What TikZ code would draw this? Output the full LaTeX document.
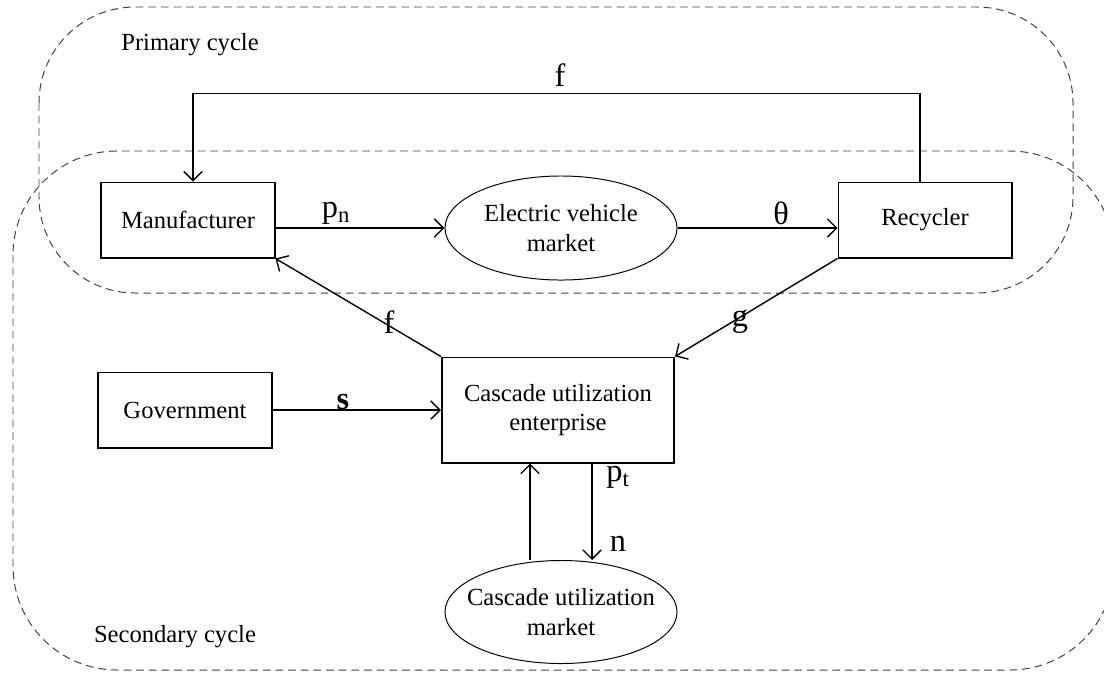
\documentclass[tikz,border=0pt]{standalone}
\usepackage{fontspec}
\setmainfont{Liberation Serif}
\usetikzlibrary{arrows.meta}
\usetikzlibrary{shapes.geometric}

\begin{document}
\begin{tikzpicture}[x=0.025cm,y=-0.025cm,
  every node/.style={font=\fontsize{17.5}{21}\selectfont},
  box/.style={draw,line width=1.4pt,minimum width=4.325cm,minimum height=1.875cm,inner sep=0pt,align=center},
  mkt/.style={draw,ellipse,line width=0.7pt,minimum width=5.8cm,minimum height=2.6cm,inner xsep=-14pt,align=center},
  lab/.style={font=\fontsize{23}{27}\selectfont,inner sep=0pt},
  arr/.style={line width=1pt,-{Straight Barb[length=6.5pt,width=13pt]}},
  cyc/.style={draw=black!75,line width=0.7pt,dash pattern=on 5.5pt off 3.5pt}]
  \useasboundingbox (0,0) rectangle (1104,673);
  % the two cycles
  \draw[cyc,rounded corners=2.4cm] (39,7) rectangle (1073,293);
  \draw[cyc,rounded corners=2.6cm] (13,151) rectangle (1114,670);
  \node (pc) at (190,45) {Primary cycle};
  \node (sc) at (175,637) {Secondary cycle};

  \node[box] (man) at (188,220) {Manufacturer};
  \node[box] (rec) at (925,220) {Recycler};
  \node[box] (gov) at (185,410) {Government};
  \node[mkt] (evm) at (561,228) {Electric vehicle\\market};
  \node[box,minimum width=5.8cm,minimum height=2.625cm] (cue) at (558,410) {Cascade utilization\\enterprise};
  \node[mkt,minimum height=2.575cm] (cum) at (561,612) {Cascade utilization\\market};

  \node[lab] (f1) at (560,75) {f};
  \node[lab] (pn) at (336,213) {p\textsubscript{n}};
  \node[lab] (th) at (781,213) {θ};
  \node[lab] (f2) at (389,322) {f};
  \node[lab] (g) at (740,322) {g};
  \node[lab] (s) at (343,402) {\textbf{s}};
  \node[lab] (pt) at (618,477) {p\textsubscript{t}};
  \node[lab] (n) at (618,544) {n};

  \draw[arr] ([xshift=-0.125cm]rec.north) -- ++(0,-88) -| ([xshift=0.125cm]man.north);
  \draw[arr] (man.east |- evm) -- (evm.west);
  \draw[arr] (evm.east) -- (evm.east -| rec.west);
  \draw[arr] (cue.north west) -- (man.south east);
  \draw[arr] (rec.south west) -- (cue.north east);
  \draw[arr] (gov.east) -- (gov.east -| cue.west);
  \draw[arr] ([xshift=0.85cm]cue.south) -- ([xshift=0.85cm]cue.south |- cum.north);
  \draw[arr] ([xshift=-0.775cm]cum.north) -- ([xshift=-0.775cm]cum.north |- cue.south);
\end{tikzpicture}
\end{document}
